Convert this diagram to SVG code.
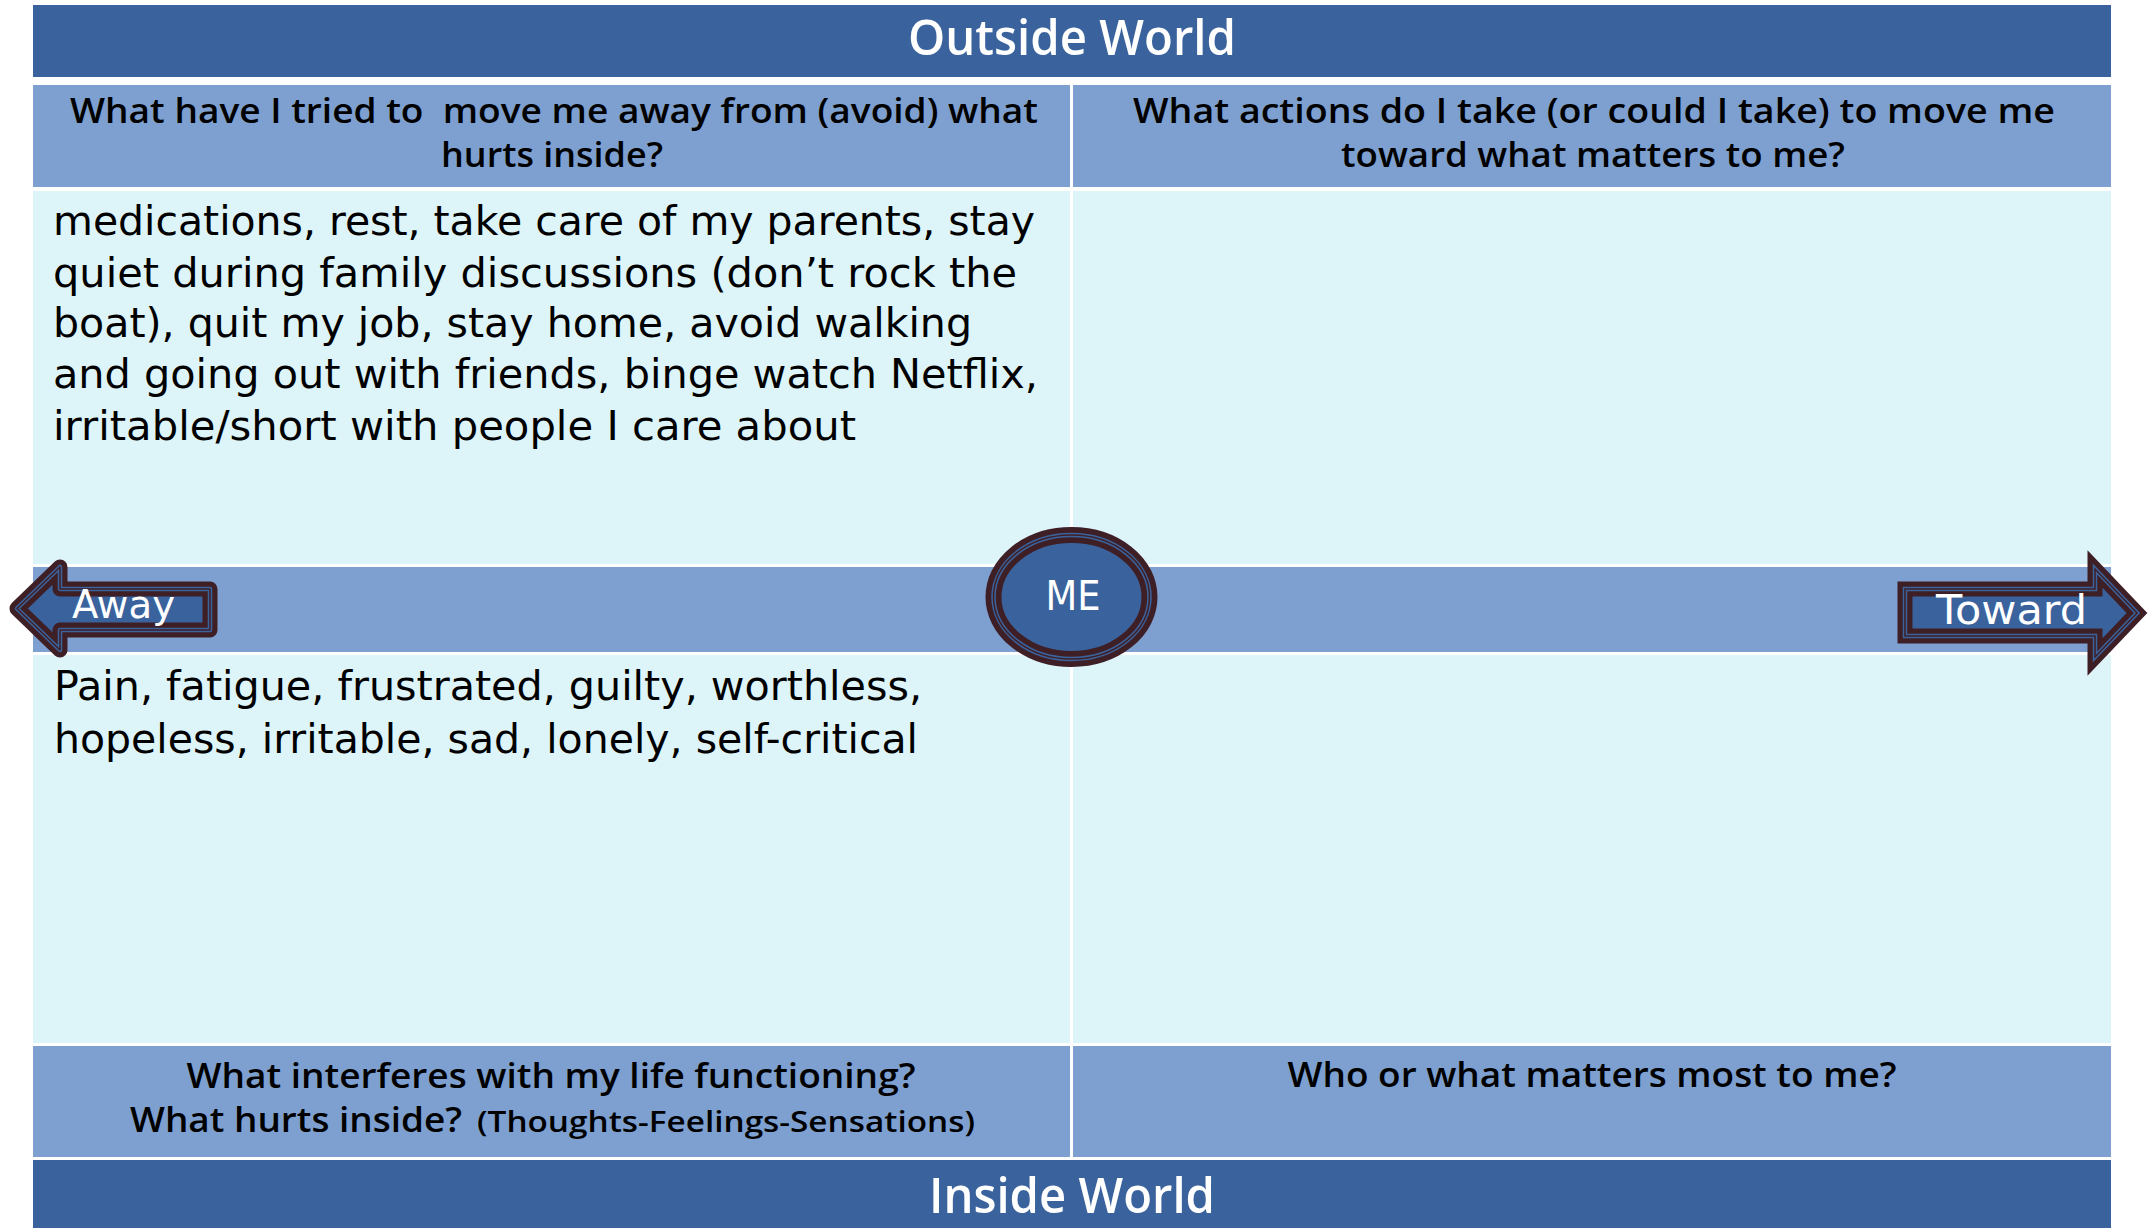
<svg xmlns="http://www.w3.org/2000/svg" xmlns:xlink="http://www.w3.org/1999/xlink" width="2148" height="1228" viewBox="0 0 2148 1228">
<style>
.dark{fill:#3A639D}
.mid{fill:#7DA0D0}
.light{fill:#DDF4F9}
.title{font-family:"Open Sans","Liberation Sans",sans-serif;font-weight:600;font-size:49px;fill:#FFFFFF;text-anchor:middle}
.hdr{font-family:"Open Sans","Liberation Sans",sans-serif;font-weight:600;font-size:34px;fill:#000000;text-anchor:middle;white-space:pre}
.hdrs{font-family:"Open Sans","Liberation Sans",sans-serif;font-weight:600;font-size:28px;fill:#000000}
.body{font-family:"DejaVu Sans","Liberation Sans",sans-serif;font-size:40px;fill:#000000}
.lbl{font-family:"DejaVu Sans","Liberation Sans",sans-serif;fill:#FFFFFF}
.s1{fill:#3A639D;stroke:#3F1F26;stroke-width:15}
.s2{fill:none;stroke:#3A639D;stroke-width:4.5}
.s3{fill:none;stroke:#3F1F26;stroke-width:1.5}
</style>
<defs>
<path id="awayPath" d="M17,608.5 L60,567 L60,589 L210,589 L210,630 L60,630 L60,650 Z"/>
<path id="towardPath" d="M1905,589 L2095,589 L2095,569 L2137,613 L2095,657 L2095,636 L1905,636 Z"/>
<ellipse id="mePath" cx="1071.5" cy="597" rx="78" ry="62"/>
</defs>
<rect width="2148" height="1228" fill="#FFFFFF"/>

<g id="outside-world">
<rect class="dark" x="33" y="5" width="2078" height="72"/>
<text class="title" x="1072" y="55" textLength="328" lengthAdjust="spacingAndGlyphs">Outside World</text>
</g>

<g id="header-away-actions">
<rect class="mid" x="33" y="85" width="1037" height="102"/>
<text class="hdr" x="554" y="123" textLength="968" lengthAdjust="spacingAndGlyphs">What have I tried to  move me away from (avoid) what</text>
<text class="hdr" x="552" y="167" textLength="222" lengthAdjust="spacingAndGlyphs">hurts inside?</text>
</g>

<g id="header-toward-actions">
<rect class="mid" x="1073" y="85" width="1038" height="102"/>
<text class="hdr" x="1594" y="123" textLength="922" lengthAdjust="spacingAndGlyphs">What actions do I take (or could I take) to move me</text>
<text class="hdr" x="1593" y="167" textLength="504" lengthAdjust="spacingAndGlyphs">toward what matters to me?</text>
</g>

<g id="cell-away-actions">
<rect class="light" x="33" y="191" width="1037" height="373"/>
<text class="body" x="53" y="235" textLength="982" lengthAdjust="spacingAndGlyphs">medications, rest, take care of my parents, stay</text>
<text class="body" x="53" y="287" textLength="964" lengthAdjust="spacingAndGlyphs">quiet during family discussions (don’t rock the</text>
<text class="body" x="53" y="337" textLength="919" lengthAdjust="spacingAndGlyphs">boat), quit my job, stay home, avoid walking</text>
<text class="body" x="53" y="388" textLength="985" lengthAdjust="spacingAndGlyphs">and going out with friends, binge watch Netflix,</text>
<text class="body" x="53" y="440" textLength="803" lengthAdjust="spacingAndGlyphs">irritable/short with people I care about</text>
</g>

<g id="cell-toward-actions">
<rect class="light" x="1073" y="191" width="1038" height="373"/>
</g>

<g id="middle-band">
<rect class="mid" x="33" y="567" width="2078" height="85"/>
</g>

<g id="cell-inner-hurts">
<rect class="light" x="33" y="655" width="1037" height="388"/>
<text class="body" x="54" y="700" textLength="868" lengthAdjust="spacingAndGlyphs">Pain, fatigue, frustrated, guilty, worthless,</text>
<text class="body" x="54" y="753" textLength="864" lengthAdjust="spacingAndGlyphs">hopeless, irritable, sad, lonely, self-critical</text>
</g>

<g id="cell-inner-values">
<rect class="light" x="1073" y="655" width="1038" height="388"/>
</g>

<g id="header-inner-hurts">
<rect class="mid" x="33" y="1046" width="1037" height="111"/>
<text class="hdr" x="551" y="1088" textLength="729" lengthAdjust="spacingAndGlyphs">What interferes with my life functioning?</text>
<text class="hdr" x="296" y="1132" textLength="332" lengthAdjust="spacingAndGlyphs">What hurts inside?</text>
<text class="hdrs" x="477" y="1132" textLength="498" lengthAdjust="spacingAndGlyphs">(Thoughts-Feelings-Sensations)</text>
</g>

<g id="header-inner-values">
<rect class="mid" x="1073" y="1046" width="1038" height="111"/>
<text class="hdr" x="1592" y="1087" textLength="609" lengthAdjust="spacingAndGlyphs">Who or what matters most to me?</text>
</g>

<g id="inside-world">
<rect class="dark" x="33" y="1160" width="2078" height="68"/>
<text class="title" x="1072" y="1213" textLength="286" lengthAdjust="spacingAndGlyphs">Inside World</text>
</g>

<g id="connectors"></g>

<g id="away-arrow">
<use xlink:href="#awayPath" class="s1" style="stroke-linejoin:round"/>
<use xlink:href="#awayPath" class="s2" style="stroke-linejoin:round"/>
<use xlink:href="#awayPath" class="s3" style="stroke-linejoin:round"/>
<text class="lbl" x="72" y="618" font-size="39" textLength="103" lengthAdjust="spacingAndGlyphs">Away</text>
</g>

<g id="toward-arrow">
<use xlink:href="#towardPath" class="s1" style="stroke-linejoin:miter"/>
<use xlink:href="#towardPath" class="s2" style="stroke-linejoin:miter"/>
<use xlink:href="#towardPath" class="s3" style="stroke-linejoin:miter"/>
<text class="lbl" x="1936" y="624" font-size="41" textLength="151" lengthAdjust="spacingAndGlyphs">Toward</text>
</g>

<g id="me">
<use xlink:href="#mePath" class="s1" style="stroke-width:16"/>
<use xlink:href="#mePath" class="s2"/>
<use xlink:href="#mePath" class="s3"/>
<text class="lbl" x="1073" y="610" font-size="40" text-anchor="middle" textLength="55" lengthAdjust="spacingAndGlyphs">ME</text>
</g>
</svg>
